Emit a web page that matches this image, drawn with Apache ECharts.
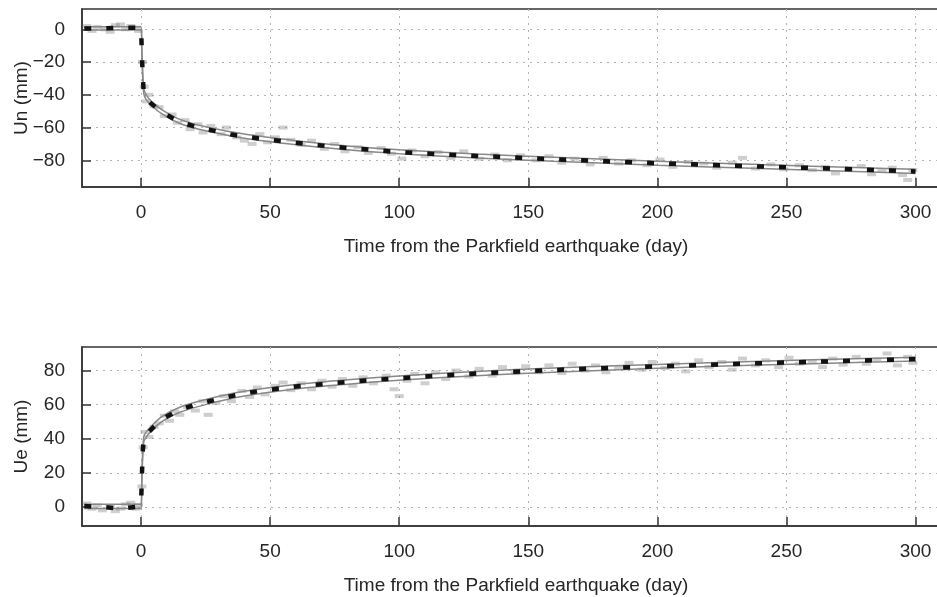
<!DOCTYPE html>
<html>
<head>
<meta charset="utf-8">
<script src="https://cdn.jsdelivr.net/npm/echarts@6/dist/echarts.min.js"></script>
<style>
  html, body { margin: 0; padding: 0; background: #fff; }
  #main_chart { width: 937px; height: 597px; }
</style>
</head>
<body>
<div id="main_chart"></div>
<script>
// days from the Parkfield earthquake, for the black daily-mean curve
var dayGrid = [-22, -15, -8, -2, 0, 0.3, 0.6, 1, 1.5, 2, 3, 4, 6, 8, 10, 13, 16, 20, 25, 30,
  35, 40, 45, 50, 55, 60, 70, 80, 90, 100, 110, 120, 130, 140, 150, 160, 170, 180, 190, 200,
  210, 220, 230, 240, 250, 260, 270, 280, 290, 300];
var unMean = [0.5, 0.5, 1, 1, 0, -15, -28, -38, -41, -42, -44, -45.5, -48, -50.5, -52.3, -55, -57, -59, -61, -62.5,
  -64.3, -65.5, -66.5, -67.5, -68.3, -69.3, -71, -72.5, -73.7, -75, -75.8, -76.6, -77.3, -78, -78.7, -79.4, -80, -80.6, -81.2, -81.8,
  -82.3, -82.8, -83.3, -83.8, -84.2, -84.7, -85.2, -85.7, -86.2, -86.8];
var ueMean = [0.5, 0, -1, 0, 2, 18, 32, 39, 41, 42, 44, 45.5, 48.5, 51, 53, 55.5, 57.5, 59.5, 61.5, 63.3,
  65, 66.5, 67.8, 68.8, 69.7, 70.6, 72, 73.3, 74.5, 75.5, 76.5, 77.4, 78.2, 79, 79.7, 80.3, 80.9, 81.4, 81.9, 82.4,
  82.9, 83.4, 83.9, 84.3, 84.7, 85.1, 85.5, 85.9, 86.3, 86.7];

// thin grey model curves
var fitDays = [-22, 0, 0.3, 1, 2, 4, 8, 15, 25, 40, 60, 80, 100, 130, 160, 200, 240, 280, 300];
var unFitA = [1.5, 1.5, -13, -36, -40, -44, -49, -55, -59.5, -64, -68, -71.2, -73.6, -76.2, -78.2, -80.5, -82.6, -84.5, -85.5];
var unFitB = [-0.5, -0.5, -16, -39, -43, -46.5, -51.5, -57.5, -62, -66.5, -70.5, -73.6, -76, -78.6, -80.6, -83, -85, -87, -88];
var ueFitA = [1.5, 1.5, 20, 41, 44, 47.5, 53, 58.5, 63, 67.8, 71.8, 74.6, 76.8, 79.5, 81.5, 83.6, 85.5, 87, 87.8];
var ueFitB = [-1, -1, 16, 38, 41, 44.5, 50, 55.5, 60, 65, 69.2, 72, 74.3, 77, 79, 81.3, 83.2, 84.8, 85.6];

// individual observations (grey cloud)
var unObs = [[-21,2],[-19,-1],[-17,1.5],[-14,0],[-12,-1.5],[-10,2.5],[-8,3],[-6,0],[-4,2],[-2,1],[-1,-1],
  [0.5,-20],[1.2,-35],[2,-44],[3,-40],[5,-47],[7,-47.5],[9,-53],[12,-52],[14,-57],[17,-55.5],[19,-61],[22,-58],
  [24,-63],[27,-59],[31,-64],[33,-60],[37,-66],[40,-68],[43,-70],[46,-64],[49,-69],[52,-66],[55,-60],[58,-67.5],
  [62,-70.5],[66,-68],[71,-73],[75,-70],[79,-74.5],[84,-72],[88,-75.5],[93,-72.5],[97,-76],[101,-79],[105,-74],
  [110,-77.5],[115,-75],[120,-78.5],[125,-74.5],[131,-79],[137,-76.5],[142,-80],[147,-77],[153,-80],[158,-77.5],
  [163,-81.5],[168,-79],[174,-82.5],[179,-78.5],[185,-82],[190,-80],[196,-83],[201,-79.5],[206,-84],[212,-81],
  [218,-82],[223,-84.5],[229,-81.5],[233,-78.5],[238,-85],[244,-82.5],[249,-85.5],[255,-83],[260,-86],[265,-84],
  [269,-88],[274,-85.5],[279,-83.5],[283,-88.5],[287,-86],[291,-84.5],[295,-89],[297,-92],[299,-86]];
var ueObs = [[-21,2],[-19,-1],[-17,1],[-15,-2],[-12,0.5],[-10,-2.5],[-8,-1],[-6,1.5],[-4,2.5],[-2,-1],[-1,1],
  [0.3,12],[0.8,35],[1.5,44],[3,41],[5,47],[7,49],[9,53.5],[11,50.5],[13,56],[15,54],[18,58.5],[21,56.5],[24,62],
  [26,54],[29,61],[32,65],[35,62],[39,68],[42,64.5],[45,70],[48,66],[52,71],[55,73],[58,68.5],[62,72.5],[66,69],
  [70,74],[74,70.5],[78,75],[82,71],[86,76],[90,72.5],[95,77],[98,69],[100,65],[103,74],[106,78],[110,72.5],
  [114,79],[118,75],[122,80],[127,76.5],[131,81],[136,77],[140,82],[145,78.5],[149,82.5],[154,79],[158,83],
  [163,78.5],[167,84],[172,80],[176,83],[180,79],[185,82],[189,84.5],[194,80.5],[198,85],[203,81.5],[207,84],
  [211,79.5],[216,86],[220,82],[225,85],[229,80.5],[233,87],[238,83],[242,86],[247,82],[251,87.5],[255,84],
  [260,85.5],[264,82],[268,87],[272,83.5],[277,88],[281,84],[285,86.5],[289,90],[293,83],[297,88],[299,84.5]];

var xTicks = [0, 50, 100, 150, 200, 250, 300];
var unTicks = [-80, -60, -40, -20, 0];
var ueTicks = [0, 20, 40, 60, 80];
var xTitle = 'Time from the Parkfield earthquake (day)';

function pairs(xs, ys) {
  return xs.map(function (x, i) { return [x, ys[i]]; });
}

var FONT = 'Liberation Sans, Arial, sans-serif';
var TEXT = '#262626';

function xAxisCfg(idx) {
  return {
    type: 'value', gridIndex: idx, min: -22.9, max: 309.5,
    name: xTitle, nameLocation: 'middle', nameGap: 50, nameMoveOverlap: false,
    nameTextStyle: { fontFamily: FONT, fontSize: 19, color: TEXT, padding: [0, 0, 0, 10] },
    axisLine: { show: true, onZero: false, lineStyle: { color: '#333', width: 1.5 } },
    axisTick: { show: true, inside: true, length: 9, customValues: xTicks, lineStyle: { color: '#333', width: 1.5 } },
    axisLabel: { customValues: xTicks, margin: 16, fontFamily: FONT, fontSize: 19, color: TEXT },
    splitLine: { show: true, lineStyle: { color: '#b4b4b4', width: 1, type: [2, 5] } }
  };
}

function yAxisCfg(idx, name, lo, hi, ticks) {
  return {
    type: 'value', gridIndex: idx, min: lo, max: hi,
    name: name, nameLocation: 'middle', nameGap: 51, nameRotate: 90, nameMoveOverlap: false,
    nameTextStyle: { fontFamily: FONT, fontSize: 19, color: TEXT },
    axisLine: { show: true, onZero: false, lineStyle: { color: '#333', width: 1.5 } },
    axisTick: { show: true, inside: true, length: 9, customValues: ticks, lineStyle: { color: '#333', width: 1.5 } },
    axisLabel: {
      customValues: ticks, margin: 17, fontFamily: FONT, fontSize: 19, color: TEXT,
      formatter: function (v) { return String(v).replace('-', '\u2212'); }
    },
    splitLine: { show: true, lineStyle: { color: '#b4b4b4', width: 1, type: [2, 5] } }
  };
}

function seriesFor(idx, obs, fitA, fitB, mean) {
  return [
    {
      type: 'scatter', xAxisIndex: idx, yAxisIndex: idx, data: obs,
      symbol: 'rect', symbolSize: [9, 4], silent: true,
      itemStyle: { color: 'rgba(120,120,120,0.45)' }
    },
    {
      type: 'line', xAxisIndex: idx, yAxisIndex: idx, data: pairs(fitDays, fitA),
      showSymbol: false, smooth: 0.3, silent: true, lineStyle: { color: '#888', width: 1.5 }
    },
    {
      type: 'line', xAxisIndex: idx, yAxisIndex: idx, data: pairs(fitDays, fitB),
      showSymbol: false, smooth: 0.3, silent: true, lineStyle: { color: '#888', width: 1.5 }
    },
    {
      type: 'line', xAxisIndex: idx, yAxisIndex: idx, data: pairs(dayGrid, mean),
      showSymbol: false, silent: true,
      lineStyle: { color: '#111', width: 4.5, type: [7, 15] }
    }
  ];
}

var mychart = echarts.init(document.getElementById('main_chart'));
var option = {
  animation: false,
  backgroundColor: '#fff',
  grid: [
    { left: 82, top: 9, right: -3, height: 178, show: true, borderColor: '#333', borderWidth: 1.5, outerBoundsMode: 'none' },
    { left: 82, top: 347, right: -3, height: 179, show: true, borderColor: '#333', borderWidth: 1.5, outerBoundsMode: 'none' }
  ],
  xAxis: [xAxisCfg(0), xAxisCfg(1)],
  yAxis: [
    yAxisCfg(0, 'Un (mm)', -96.3, 12.4, unTicks),
    yAxisCfg(1, 'Ue (mm)', -11.2, 93.8, ueTicks)
  ],
  series: seriesFor(0, unObs, unFitA, unFitB, unMean)
    .concat(seriesFor(1, ueObs, ueFitA, ueFitB, ueMean))
};
mychart.setOption(option);
</script>
</body>
</html>
